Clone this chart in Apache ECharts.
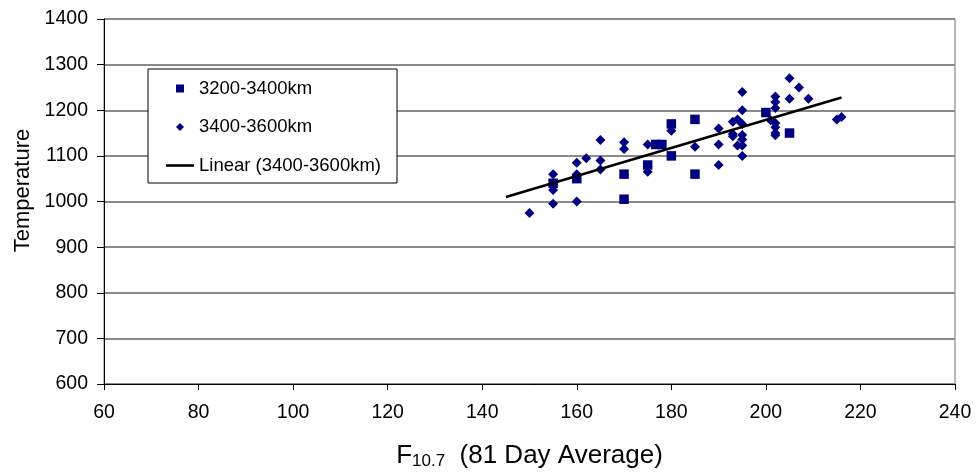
<!DOCTYPE html>
<html>
<head>
<meta charset="utf-8">
<script src="https://cdn.jsdelivr.net/npm/echarts@6/dist/echarts.min.js"></script>
<style>
html,body{margin:0;padding:0;background:#fff;}
#chart{width:976px;height:475px;}
</style>
</head>
<body>
<div id="chart"></div>
<script>
// ---- Data ----
const seriesNames = ['3200-3400km', '3400-3600km', 'Linear (3400-3600km)'];

const lowX = [155, 160, 170, 170, 175, 176.7, 178, 180, 180, 185, 185, 200, 205];
const lowY = [1040, 1050, 1060, 1005, 1080, 1125, 1125, 1170, 1100, 1180, 1060, 1195, 1150];

const highX = [150, 155, 155, 155, 160, 160, 160, 162, 165, 165, 165, 170, 170, 175, 175, 180,
               185, 190, 190, 190, 193, 194, 193, 193, 195, 195, 195, 195, 195, 194, 195, 195,
               201, 202, 202, 202, 202, 202, 202, 202, 205, 205, 207, 209, 215, 216];
const highY = [975, 1060, 1025, 995, 1085, 1060, 1000, 1095, 1135, 1090, 1070, 1130, 1115, 1125, 1065, 1155,
               1120, 1160, 1125, 1080, 1175, 1180, 1148, 1143, 1240, 1200, 1170, 1146, 1136, 1123, 1123, 1100,
               1178, 1172, 1163, 1230, 1218, 1205, 1150, 1145, 1270, 1225, 1250, 1225, 1180, 1185];

const trendX = [145, 216];
const trendY = [1010, 1228];

const xAxisMin = 60, xAxisMax = 240, xAxisStep = 20;
const yAxisMin = 600, yAxisMax = 1400, yAxisStep = 100;

const pairs = (xs, ys) => xs.map((x, i) => [x, ys[i]]);

const FONT = 'Liberation Sans, Arial, sans-serif';
const NAVY = '#000080';

const chart = echarts.init(document.getElementById('chart'), null, {renderer: 'canvas'});
chart.setOption({
  animation: false,
  backgroundColor: '#fff',
  grid: {
    left: 104, right: 21, top: 19, bottom: 87,
    show: true, borderColor: '#6e6e6e', borderWidth: 1, backgroundColor: '#fff'
  },
  legend: {
    orient: 'vertical',
    left: 148, top: 69,
    padding: [10, 16, 8, 18],
    itemGap: 19.5,
    itemWidth: 28, itemHeight: 8,
    symbolKeepAspect: true,
    borderColor: '#000', borderWidth: 1,
    backgroundColor: '#fff',
    textStyle: {fontFamily: FONT, fontSize: 18.5, color: '#000'},
    data: [
      {name: seriesNames[0], icon: 'path://M0,0L10,0L10,10L0,10Z'},
      {name: seriesNames[1], icon: 'path://M5,0L10,5L5,10L0,5Z'},
      {name: seriesNames[2], icon: 'path://M0,0L28,0L28,2.6L0,2.6Z'}
    ]
  },
  xAxis: {
    type: 'value',
    min: xAxisMin, max: xAxisMax, interval: xAxisStep,
    name: '{a|F}{s|10.7}{a|  (81 Day Average)}',
    nameLocation: 'middle',
    nameGap: 57,
    nameTextStyle: {
      rich: {
        a: {fontFamily: FONT, fontSize: 26, color: '#000'},
        s: {fontFamily: FONT, fontSize: 17, color: '#000', verticalAlign: 'bottom', padding: [12, 0, 0, 0]}
      }
    },
    axisLine: {show: true, onZero: false, lineStyle: {color: '#000', width: 1}},
    axisTick: {show: true, inside: false, length: 6, lineStyle: {color: '#000'}},
    axisLabel: {fontFamily: FONT, fontSize: 19.5, color: '#000', margin: 19, formatter: v => String(v)},
    splitLine: {show: false}
  },
  yAxis: {
    type: 'value',
    min: yAxisMin, max: yAxisMax, interval: yAxisStep,
    name: 'Temperature',
    nameLocation: 'middle',
    nameRotate: 90,
    nameGap: 67,
    nameTextStyle: {fontFamily: FONT, fontSize: 22, color: '#000', padding: [0, 0, 0, 22]},
    axisLine: {show: true, onZero: false, lineStyle: {color: '#000', width: 1}},
    axisTick: {show: true, inside: false, length: 7, lineStyle: {color: '#000'}},
    axisLabel: {fontFamily: FONT, fontSize: 19.5, color: '#000', margin: 16, formatter: v => String(v)},
    splitLine: {show: true, lineStyle: {color: '#8a8a8a', width: 2}}
  },
  series: [
    {
      name: seriesNames[0],
      type: 'scatter',
      symbol: 'rect',
      symbolSize: 9.5,
      itemStyle: {color: NAVY, opacity: 1},
      data: pairs(lowX, lowY),
      z: 3
    },
    {
      name: seriesNames[1],
      type: 'scatter',
      symbol: 'diamond',
      symbolSize: 10,
      itemStyle: {color: NAVY, opacity: 1},
      data: pairs(highX, highY),
      z: 4
    },
    {
      name: seriesNames[2],
      type: 'line',
      showSymbol: false,
      symbol: 'none',
      lineStyle: {color: '#000', width: 2.5},
      itemStyle: {color: '#000'},
      data: pairs(trendX, trendY),
      z: 5
    }
  ]
});
</script>
</body>
</html>
